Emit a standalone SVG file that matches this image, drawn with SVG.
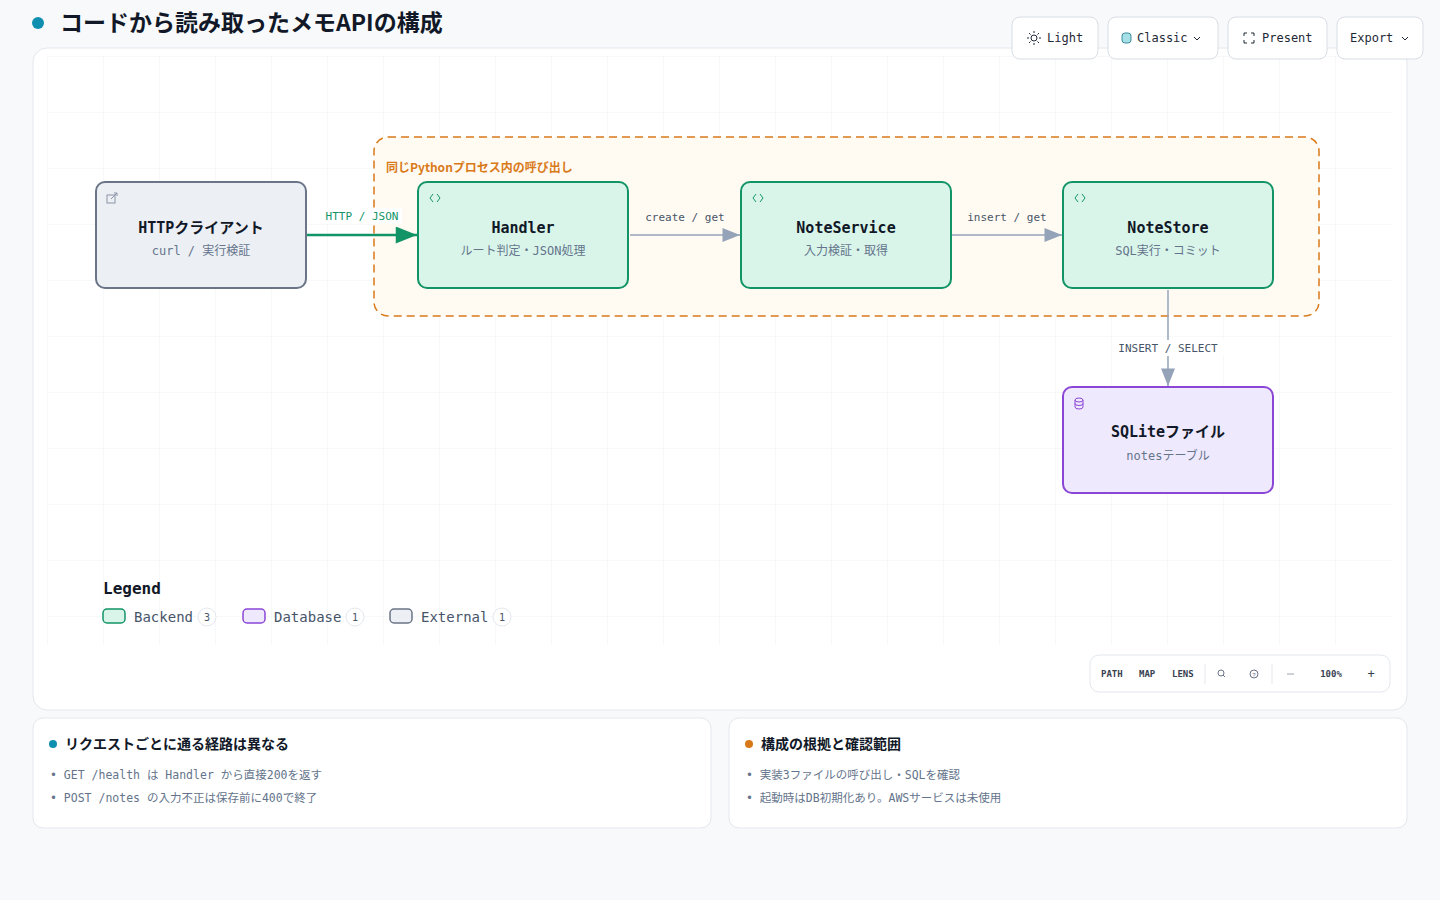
<svg xmlns="http://www.w3.org/2000/svg" width="1440" height="900" viewBox="0 0 1440 900">
<defs>
<style>
.m{font-family:"DejaVu Sans Mono","Liberation Mono","Noto Sans CJK JP",monospace}
.s{font-family:"Noto Sans CJK JP","Noto Sans",sans-serif}
.t{font-size:15px;font-weight:bold;fill:#111827;text-anchor:middle}
.sub{font-size:12px;fill:#64748b;text-anchor:middle}
.el{font-size:11px;fill:#475569;text-anchor:middle}
.btn{fill:#fff;stroke:#d8dde4}
.bt{font-size:12px;fill:#1f2937}
.be{fill:#d9f5ea;stroke:#129467;stroke-width:2}
.ic{font-size:10px;fill:#129467}
</style>
<pattern id="g" width="56" height="56" patternUnits="userSpaceOnUse" x="47" y="56"><path d="M0 0V56M0 0H56" fill="none" stroke="#eef1f4" stroke-width="1"/></pattern>
<marker id="ag" viewBox="0 0 10 8" refX="10" refY="4" markerWidth="22" markerHeight="17" markerUnits="userSpaceOnUse" orient="auto"><path d="M0 0L10 4L0 8z" fill="#129467"/></marker>
<marker id="ar" viewBox="0 0 10 8" refX="10" refY="4" markerWidth="18" markerHeight="14" markerUnits="userSpaceOnUse" orient="auto"><path d="M0 0L10 4L0 8z" fill="#94a3b8"/></marker>
</defs>
<rect width="1440" height="900" fill="#f8f9fb"/>
<circle cx="38" cy="23" r="6" fill="#0e8fb0"/>
<text x="60" y="31" class="s" font-size="23" font-weight="bold" fill="#111827">コードから読み取ったメモAPIの構成</text>
<rect x="33" y="48" width="1374" height="662" rx="14" fill="#fff" stroke="#e3e7ec"/>
<rect x="47" y="56" width="1344" height="588" fill="url(#g)"/>
<g id="toolbar">
<rect class="btn" x="1012" y="17" width="86" height="42" rx="8"/>
<circle cx="1034" cy="38" r="3" fill="none" stroke="#1f2937"/>
<path d="M1034 31v2M1034 43v2M1027 38h2M1039 38h2M1029 33l1.5 1.5M1037.5 41.5l1.5 1.5M1029 43l1.5-1.5M1037.5 34.5l1.5-1.5" stroke="#1f2937"/>
<text class="m bt" x="1047" y="42">Light</text>
<rect class="btn" x="1108" y="17" width="110" height="42" rx="8"/>
<rect x="1122" y="33" width="9" height="10" rx="3" fill="#a6e0e6" stroke="#3b8fa0"/>
<text class="m bt" x="1137" y="42">Classic</text>
<path d="M1194 37l3 3l3-3" fill="none" stroke="#1f2937"/>
<rect class="btn" x="1228" y="17" width="99" height="42" rx="8"/>
<path d="M1244 36v-3h3M1251 33h3v3M1254 40v3h-3M1247 43h-3v-3" fill="none" stroke="#1f2937"/>
<text class="m bt" x="1262" y="42">Present</text>
<rect class="btn" x="1337" y="17" width="86" height="42" rx="8"/>
<text class="m bt" x="1350" y="42">Export</text>
<path d="M1402 37l3 3l3-3" fill="none" stroke="#1f2937"/>
</g>
<g id="group">
<rect x="374" y="137" width="945" height="179" rx="14" fill="#fffbf2" stroke="#d97a1a" stroke-width="1.5" stroke-dasharray="8 5"/>
<rect x="380" y="154" width="240" height="24" fill="#fffbf2"/>
<text x="386" y="172" class="s" font-size="12" font-weight="bold" fill="#d97a1a">同じPythonプロセス内の呼び出し</text>
</g>
<g id="connectors">
<line x1="307" y1="235" x2="417" y2="235" stroke="#129467" stroke-width="2.5" marker-end="url(#ag)"/>
<rect x="322" y="208" width="80" height="16" fill="#fff"/>
<text x="362" y="220" class="m" font-size="11" fill="#129467" text-anchor="middle">HTTP / JSON</text>
<line x1="630" y1="235" x2="740" y2="235" stroke="#94a3b8" stroke-width="1.5" marker-end="url(#ar)"/>
<text x="685" y="221" class="m el">create / get</text>
<line x1="952" y1="235" x2="1062" y2="235" stroke="#94a3b8" stroke-width="1.5" marker-end="url(#ar)"/>
<text x="1007" y="221" class="m el">insert / get</text>
<line x1="1168" y1="290" x2="1168" y2="386" stroke="#94a3b8" stroke-width="1.5" marker-end="url(#ar)"/>
<rect x="1112" y="340" width="112" height="16" fill="#fff"/>
<text x="1168" y="352" class="m el">INSERT / SELECT</text>
</g>
<g id="client">
<rect x="96" y="182" width="210" height="106" rx="9" fill="#eceff4" stroke="#6b7588" stroke-width="2"/>
<rect x="107" y="195" width="8" height="8" fill="none" stroke="#8a94a6"/>
<path d="M111 199l6-6M114 193h3v3" fill="none" stroke="#8a94a6"/>
<text x="201" y="233" class="m t">HTTPクライアント</text>
<text x="201" y="255" class="m sub">curl / 実行検証</text>
</g>
<g id="handler">
<rect class="be" x="418" y="182" width="210" height="106" rx="9"/>
<path d="M433 194l-3 4l3 4M437 194l3 4l-3 4" fill="none" stroke="#129467"/>
<text x="523" y="233" class="m t">Handler</text>
<text x="523" y="255" class="m sub">ルート判定・JSON処理</text>
</g>
<g id="noteservice">
<rect class="be" x="741" y="182" width="210" height="106" rx="9"/>
<path d="M756 194l-3 4l3 4M760 194l3 4l-3 4" fill="none" stroke="#129467"/>
<text x="846" y="233" class="m t">NoteService</text>
<text x="846" y="255" class="m sub">入力検証・取得</text>
</g>
<g id="notestore">
<rect class="be" x="1063" y="182" width="210" height="106" rx="9"/>
<path d="M1078 194l-3 4l3 4M1082 194l3 4l-3 4" fill="none" stroke="#129467"/>
<text x="1168" y="233" class="m t">NoteStore</text>
<text x="1168" y="255" class="m sub">SQL実行・コミット</text>
</g>
<g id="sqlite">
<rect x="1063" y="387" width="210" height="106" rx="9" fill="#efe9fd" stroke="#8b46d6" stroke-width="2"/>
<ellipse cx="1079" cy="400" rx="4" ry="2" fill="none" stroke="#8b46d6"/>
<path d="M1075 400v7a4 2 0 0 0 8 0v-7M1075 403.5a4 2 0 0 0 8 0" fill="none" stroke="#8b46d6"/>
<text x="1168" y="437" class="m t">SQLiteファイル</text>
<text x="1168" y="460" class="m sub">notesテーブル</text>
</g>
<g id="legend">
<text x="103" y="594" class="m" font-size="16" font-weight="bold" fill="#111827">Legend</text>
<rect x="103" y="609" width="22" height="14" rx="4" fill="#d9f5ea" stroke="#129467" stroke-width="1.5"/>
<text x="134" y="622" class="m" font-size="14" fill="#475569">Backend</text>
<circle cx="207" cy="617" r="9" fill="#fff" stroke="#e3e7ec"/><text x="207" y="621" class="m" font-size="10" fill="#475569" text-anchor="middle">3</text>
<rect x="243" y="609" width="22" height="14" rx="4" fill="#efe9fd" stroke="#8b46d6" stroke-width="1.5"/>
<text x="274" y="622" class="m" font-size="14" fill="#475569">Database</text>
<circle cx="355" cy="617" r="9" fill="#fff" stroke="#e3e7ec"/><text x="355" y="621" class="m" font-size="10" fill="#475569" text-anchor="middle">1</text>
<rect x="390" y="609" width="22" height="14" rx="4" fill="#eceff4" stroke="#6b7588" stroke-width="1.5"/>
<text x="421" y="622" class="m" font-size="14" fill="#475569">External</text>
<circle cx="502" cy="617" r="9" fill="#fff" stroke="#e3e7ec"/><text x="502" y="621" class="m" font-size="10" fill="#475569" text-anchor="middle">1</text>
</g>
<g id="controls">
<rect x="1090" y="655" width="300" height="37" rx="9" fill="#fff" stroke="#e3e7ec"/>
<g class="m" font-size="9" fill="#374151" font-weight="bold">
<text x="1101" y="677">PATH</text><text x="1139" y="677">MAP</text><text x="1172" y="677">LENS</text>
</g>
<line x1="1205" y1="664" x2="1205" y2="684" stroke="#e3e7ec"/>
<circle cx="1221" cy="673" r="3" fill="none" stroke="#6b7588"/><line x1="1223" y1="675" x2="1225" y2="677" stroke="#6b7588"/>
<circle cx="1254" cy="674" r="4" fill="none" stroke="#6b7588"/>
<text x="1254" y="677" font-family="Liberation Sans,sans-serif" font-size="6" fill="#6b7588" text-anchor="middle">?</text>
<line x1="1272" y1="664" x2="1272" y2="684" stroke="#e3e7ec"/>
<line x1="1287" y1="674" x2="1294" y2="674" stroke="#9ca3af"/>
<text x="1331" y="677" class="m" font-size="9" fill="#374151" font-weight="bold" text-anchor="middle">100%</text>
<text x="1371" y="678" class="m" font-size="12" fill="#374151" text-anchor="middle">+</text>
</g>
<g id="card1">
<rect x="33" y="718" width="678" height="110" rx="10" fill="#fff" stroke="#e3e7ec"/>
<circle cx="53" cy="744" r="4" fill="#0e8fb0"/>
<text x="65" y="749" class="s" font-size="14" font-weight="bold" fill="#111827">リクエストごとに通る経路は異なる</text>
<text x="50" y="779" class="m" font-size="11.5" fill="#64748b">•  GET /health は Handler から直接200を返す</text>
<text x="50" y="802" class="m" font-size="11.5" fill="#64748b">•  POST /notes の入力不正は保存前に400で終了</text>
</g>
<g id="card2">
<rect x="729" y="718" width="678" height="110" rx="10" fill="#fff" stroke="#e3e7ec"/>
<circle cx="749" cy="744" r="4" fill="#d97a1a"/>
<text x="761" y="749" class="s" font-size="14" font-weight="bold" fill="#111827">構成の根拠と確認範囲</text>
<text x="746" y="779" class="m" font-size="11.5" fill="#64748b">•  実装3ファイルの呼び出し・SQLを確認</text>
<text x="746" y="802" class="m" font-size="11.5" fill="#64748b">•  起動時はDB初期化あり。AWSサービスは未使用</text>
</g>
</svg>
